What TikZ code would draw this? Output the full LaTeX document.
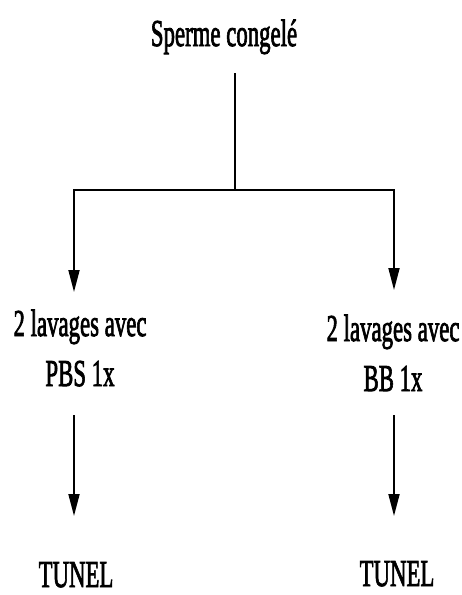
\documentclass[tikz,border=0pt]{standalone}
\usepackage{fontspec}
\setmainfont{Liberation Serif}[FakeBold=2.5]
\usetikzlibrary{arrows.meta}
\begin{document}
\begin{tikzpicture}[x=1pt,y=-1pt,
  lbl/.style={font=\fontsize{38}{50}\selectfont, xscale=0.6, inner sep=0pt, align=center},
  conn/.style={line width=1.8pt},
  arr/.style={conn,-{Triangle[length=22pt,width=11pt]}}]
\useasboundingbox (0,0) rectangle (462,595);
\fill[white] (0,0) rectangle (462,595);
\node[lbl, anchor=base] (top) at (224,46) {Sperme congelé};
\node[lbl, anchor=base] (pbs) at (80,386) {2 lavages avec\\PBS 1x};
\node[lbl, anchor=base] (bb) at (393,391) {2 lavages avec\\BB 1x};
\node[lbl, anchor=base] (tun1) at (76,587) {TUNEL};
\node[lbl, anchor=base] (tun2) at (397,586) {TUNEL};
\coordinate (ts) at (235,73);
\coordinate (j) at (235,190);
\coordinate (tl) at (74,292);
\coordinate (tr) at (394,290);
\coordinate (pl) at (74,415);
\coordinate (pr) at (394,415);
\coordinate (ql) at (74,516);
\coordinate (qr) at (394,516);
\draw[conn] (ts) -- (j);
\draw[arr] (j) -| (tl);
\draw[arr] (j) -| (tr);
\draw[arr] (pl) -- (ql);
\draw[arr] (pr) -- (qr);
\end{tikzpicture}
\end{document}
